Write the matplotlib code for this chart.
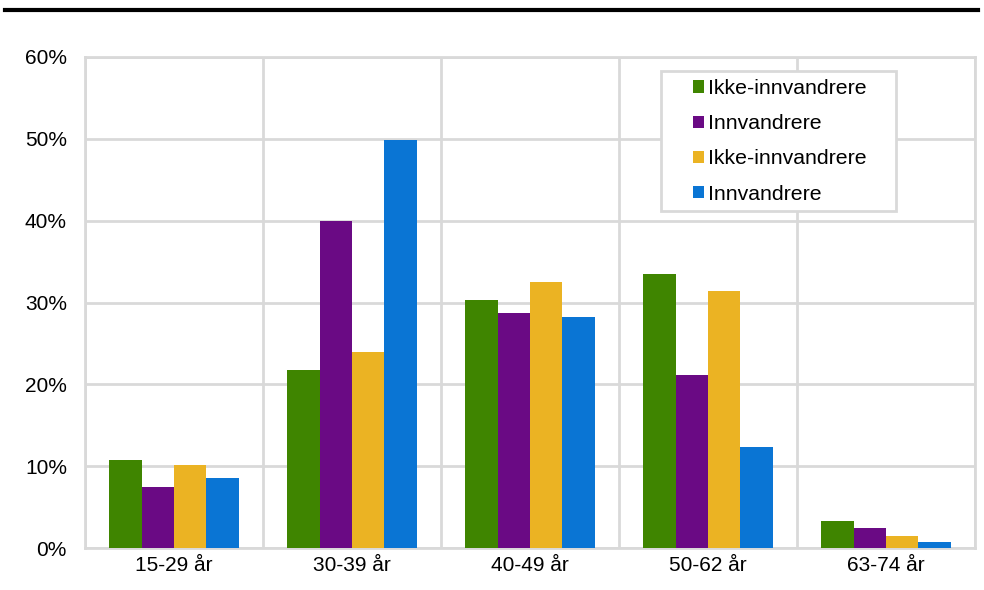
import numpy as np
import matplotlib.pyplot as plt
from matplotlib.patches import Rectangle

plt.rcParams['font.family'] = ['Liberation Sans', 'DejaVu Sans']

categories = ['15-29 år', '30-39 år', '40-49 år', '50-62 år', '63-74 år']
series_names = ['Ikke-innvandrere', 'Innvandrere', 'Ikke-innvandrere', 'Innvandrere']
values = [
    [10.7, 21.8, 30.3, 33.5, 3.3],
    [7.4, 40.0, 28.7, 21.1, 2.4],
    [10.1, 24.0, 32.5, 31.4, 1.5],
    [8.6, 49.8, 28.2, 12.3, 0.7],
]
colors = ['#3F8500', '#6A0A84', '#EBB323', '#0A75D4']

fig = plt.figure(figsize=(9.84, 5.90), dpi=100)
ax = fig.add_axes([85 / 984, 42 / 590, 890 / 984, 491 / 590])

x = np.arange(len(categories))
w = 0.1825
for i, (vals, c, name) in enumerate(zip(values, colors, series_names)):
    ax.bar(x + (i - 1.5) * w, vals, width=w, color=c, label=name, zorder=3)

ax.set_xlim(-0.5, len(categories) - 0.5)
ax.set_ylim(0, 60)
ax.set_yticks(range(0, 61, 10))
ax.set_yticklabels([f'{t}%' for t in range(0, 61, 10)])
ax.set_xticks(x)
ax.set_xticklabels(categories)
ax.set_xticks(np.arange(-0.5, len(categories), 1), minor=True)

grid_c = '#D9D9D9'
ax.grid(axis='y', which='major', color=grid_c, lw=2, zorder=0)
ax.grid(axis='x', which='minor', color=grid_c, lw=2, zorder=0)
for s in ax.spines.values():
    s.set_color(grid_c)
    s.set_linewidth(2)
ax.tick_params(axis='both', which='both', length=0, labelsize=15)
ax.tick_params(axis='y', pad=13)
ax.tick_params(axis='x', pad=6)

# legend box drawn separately (wide side padding as in the original)
ax.add_patch(Rectangle((0.647, 0.6864), 0.264, 0.285, transform=ax.transAxes,
                       facecolor='white', edgecolor=grid_c, lw=2, zorder=4))
leg = ax.legend(loc='upper left', bbox_to_anchor=(0.683, 0.955), fontsize=15.3,
                frameon=False, handlelength=0.52, handleheight=0.52,
                handletextpad=0.18, labelspacing=0.76, borderpad=0, borderaxespad=0)
leg.set_zorder(5)

# black rule at the top of the figure
fig.add_artist(plt.Line2D([5 / 984, 978 / 984], [1 - 9.5 / 590, 1 - 9.5 / 590], color='black', lw=3))

fig.savefig('out.png', dpi=100)
